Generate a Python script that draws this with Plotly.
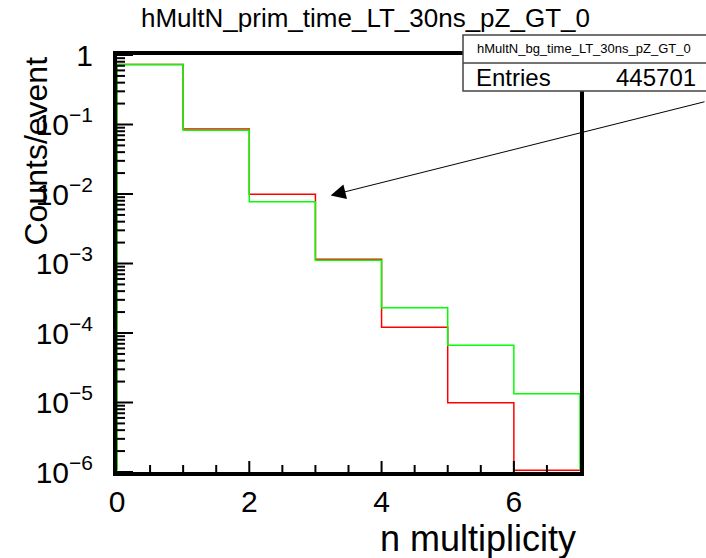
import math
import plotly.graph_objects as go

# ---------------- data ----------------
bin_edges = [0, 1, 2, 3, 4, 5, 6, 7]
prim_counts = [0.733, 0.0860, 0.00990, 0.00115, 1.21e-4, 9.9e-6, 0.0]      # red
bg_counts = [0.733, 0.0828, 0.00776, 0.00111, 2.31e-4, 6.67e-5, 1.34e-5]    # green

title_text = "hMultN_prim_time_LT_30ns_pZ_GT_0"
stats_name = "hMultN_bg_time_LT_30ns_pZ_GT_0"
stats_label = "Entries"
stats_value = "445701"
x_title = "n multiplicity"
y_title = "Counts/event"

x_tick_vals = [0, 2, 4, 6]
x_tick_text = ["0", "2", "4", "6"]
x_minor_step = 0.5
y_tick_vals = [1e-6, 1e-5, 1e-4, 1e-3, 1e-2, 1e-1, 1]
y_tick_exps = ["−6", "−5", "−4", "−3", "−2", "−1", None]

X_MIN, X_MAX = 0, 7
Y_MIN, Y_MAX = 1e-6, 1.0

# ---------------- layout geometry ----------------
W, H = 706, 558
L, R, T, B = 117, 580, 55, 472
PW, PH = R - L, B - T


def pxx(x):
    return (x - L) / PW


def pxy(y):
    return (B - y) / PH


FONT = "Liberation Sans, Arial, Helvetica, sans-serif"


def step_outline(edges, vals, floor):
    xs, ys = [edges[0]], [floor]
    for i, v in enumerate(vals):
        vv = v if v > 0 else floor
        xs += [edges[i], edges[i + 1]]
        ys += [vv, vv]
    xs.append(edges[-1])
    ys.append(floor)
    return xs, ys


# zero bins are drawn on the bottom edge (just inside the frame), as ROOT does
floor_val = Y_MIN * 1.06

fig = go.Figure()
xr, yr = step_outline(bin_edges, prim_counts, floor_val)
xg, yg = step_outline(bin_edges, bg_counts, floor_val)
fig.add_trace(go.Scatter(x=xr, y=yr, mode="lines", line=dict(color="#ff0000", width=1.5),
                         showlegend=False, hoverinfo="skip"))
fig.add_trace(go.Scatter(x=xg, y=yg, mode="lines", line=dict(color="#00ff00", width=1.5),
                         showlegend=False, hoverinfo="skip"))

y_tick_text = []
for e in y_tick_exps:
    if e is None:
        y_tick_text.append("1")
    else:
        y_tick_text.append("10<sup>" + e + "</sup>")

fig.update_layout(
    width=W, height=H,
    margin=dict(l=L, r=W - R, t=T, b=H - B, pad=0),
    paper_bgcolor="white", plot_bgcolor="white",
    font=dict(family=FONT, color="black"),
    showlegend=False,
)
fig.update_xaxes(
    range=[X_MIN, X_MAX], showgrid=False, zeroline=False,
    showline=True, linewidth=4, linecolor="black", mirror=True,
    tickmode="array", tickvals=x_tick_vals, ticktext=x_tick_text,
    ticks="", tickfont=dict(size=30, family=FONT), ticklabelstandoff=0,
    layer="below traces",
)
fig.update_yaxes(
    type="log", range=[math.log10(Y_MIN), math.log10(Y_MAX)], showgrid=False, zeroline=False,
    showline=True, linewidth=4, linecolor="black", mirror=True,
    tickmode="array", tickvals=y_tick_vals, ticktext=y_tick_text,
    ticks="", tickfont=dict(size=30, family=FONT), ticklabelstandoff=14,
    layer="below traces",
)

# ---- inside tick marks (ROOT style), derived from the axis tick values ----
tick_line = dict(color="black", width=2)
X_MAJ_LEN, X_MIN_LEN = 11 / PH, 7 / PH
Y_MAJ_LEN, Y_MIN_LEN = 16 / PW, 8 / PW

x_span = X_MAX - X_MIN
n_minor = int(round(x_span / x_minor_step))
for i in range(1, n_minor):
    xv = X_MIN + i * x_minor_step
    ln = X_MAJ_LEN if xv in x_tick_vals else X_MIN_LEN
    xp = (xv - X_MIN) / x_span
    fig.add_shape(type="line", xref="paper", yref="paper", x0=xp, x1=xp, y0=0, y1=ln,
                  line=tick_line, layer="above")

ly0, ly1 = math.log10(Y_MIN), math.log10(Y_MAX)


def ypaper(v):
    return (math.log10(v) - ly0) / (ly1 - ly0)


for v in y_tick_vals:
    fig.add_shape(type="line", xref="paper", yref="paper", x0=0, x1=Y_MAJ_LEN,
                  y0=ypaper(v), y1=ypaper(v), line=tick_line, layer="above")
for p in range(int(ly0), int(ly1)):
    for k in range(2, 10):
        yy = ypaper(k * 10 ** p)
        fig.add_shape(type="line", xref="paper", yref="paper", x0=0, x1=Y_MIN_LEN,
                      y0=yy, y1=yy, line=tick_line, layer="above")

# stats box
fig.add_shape(type="rect", xref="paper", yref="paper",
              x0=pxx(463), x1=pxx(760), y0=pxy(91), y1=pxy(35),
              line=dict(color="#444444", width=1.5), fillcolor="white", layer="above")
fig.add_shape(type="line", xref="paper", yref="paper",
              x0=pxx(463), x1=pxx(760), y0=pxy(63), y1=pxy(63),
              line=dict(color="#444444", width=1.5), layer="above")

ann = []
ann.append(dict(text=title_text, xref="paper", yref="paper", x=pxx(365), y=pxy(18),
                xanchor="center", yanchor="middle", showarrow=False,
                font=dict(size=26, family=FONT)))
ann.append(dict(text=stats_name, xref="paper", yref="paper", x=pxx(475), y=pxy(48),
                xanchor="left", yanchor="middle", showarrow=False,
                font=dict(size=13, family=FONT)))
ann.append(dict(text=stats_label, xref="paper", yref="paper", x=pxx(474), y=pxy(77),
                xanchor="left", yanchor="middle", showarrow=False,
                font=dict(size=24, family=FONT)))
ann.append(dict(text=stats_value, xref="paper", yref="paper", x=pxx(698), y=pxy(77),
                xanchor="right", yanchor="middle", showarrow=False,
                font=dict(size=24, family=FONT)))
ann.append(dict(text=x_title, xref="paper", yref="paper", x=pxx(578), y=pxy(538),
                xanchor="right", yanchor="middle", showarrow=False,
                font=dict(size=36, family=FONT)))
ann.append(dict(text=y_title, xref="paper", yref="paper", x=pxx(35), y=pxy(55),
                xanchor="center", yanchor="top", textangle=-90, showarrow=False,
                font=dict(size=32, family=FONT)))
# arrow pointing at bin 3
arrow_tip_x, arrow_tip_logy = 3.23, -2.02
ann.append(dict(text="", x=arrow_tip_x, y=arrow_tip_logy, xref="x", yref="y",
                showarrow=True, arrowhead=2, arrowsize=3, arrowwidth=1, arrowcolor="black",
                ax=390, ay=-94, standoff=0))
fig.update_layout(annotations=ann)

fig.write_html("out.html")
